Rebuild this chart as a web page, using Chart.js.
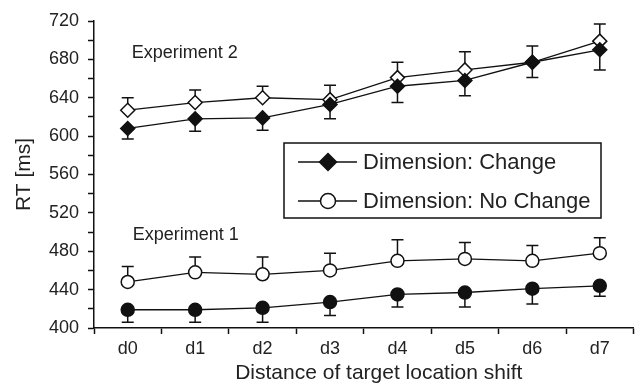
<!DOCTYPE html>
<html lang="en">
<head>
  <meta charset="UTF-8" />
  <title>RT by target location shift</title>
  <script src="https://cdn.jsdelivr.net/npm/chart.js"></script>
  <style>
    body {
      margin: 0;
      background: #ffffff;
    }
    #wrap {
      width: 642px;
      height: 387px;
    }
  </style>
</head>
<body>
  <div id="wrap"><canvas id="rtChart" width="642" height="387"></canvas></div>

  <script>
    // categories
    const labels = ['d0', 'd1', 'd2', 'd3', 'd4', 'd5', 'd6', 'd7'];

    // Experiment 2 (diamonds)
    const exp2Change = [608, 618, 619, 633, 652, 658, 677, 690];
    const exp2ChangeErr = [11, 13, 13, 15, 17, 16, 16, 21];
    const exp2NoChange = [627, 635, 640, 638, 661, 669, 677, 699];
    const exp2NoChangeErr = [13, 13, 12, 15, 16, 19, 17, 18];

    // Experiment 1 (circles)
    const exp1Change = [419, 419, 421, 427, 435, 437, 441, 444];
    const exp1ChangeErr = [13, 13, 15, 14, 13, 15, 16, 11];
    const exp1NoChange = [448, 458, 456, 460, 470, 472, 470, 478];
    const exp1NoChangeErr = [16, 16, 18, 18, 22, 17, 16, 16];

    const legendLabels = ['Dimension: Change', 'Dimension: No Change'];
    const ink = '#111';
    const font = "'Liberation Sans', Arial, sans-serif";

    function serie(label, data, err, dir, style, filled, radius) {
      return {
        label: label,
        data: data,
        err: err,
        errDir: dir,
        borderColor: ink,
        borderWidth: 1.3,
        pointStyle: style,
        pointRadius: radius,
        pointBorderWidth: 1.5,
        pointBorderColor: ink,
        pointBackgroundColor: filled ? ink : '#ffffff',
        tension: 0,
        fill: false
      };
    }

    // error bars, drawn under the markers
    const errorBars = {
      id: 'errorBars',
      beforeDatasetsDraw(chart) {
        const ctx = chart.ctx;
        const y = chart.scales.y;
        ctx.save();
        ctx.strokeStyle = ink;
        ctx.lineWidth = 1.5;
        chart.data.datasets.forEach((ds, i) => {
          const meta = chart.getDatasetMeta(i);
          meta.data.forEach((pt, j) => {
            const end = y.getPixelForValue(ds.data[j] + ds.errDir * ds.err[j]);
            ctx.beginPath();
            ctx.moveTo(pt.x, pt.y);
            ctx.lineTo(pt.x, end);
            ctx.moveTo(pt.x - 6, end);
            ctx.lineTo(pt.x + 6, end);
            ctx.stroke();
          });
        });
        ctx.restore();
      }
    };

    // legend box, experiment labels, x title
    const extras = {
      id: 'extras',
      afterDraw(chart) {
        const ctx = chart.ctx;
        const x = chart.scales.x;
        const y = chart.scales.y;
        ctx.save();
        ctx.fillStyle = '#222';
        ctx.textBaseline = 'middle';
        ctx.font = '18px ' + font;
        ctx.textAlign = 'left';
        ctx.fillText('Experiment 2', x.getPixelForValue(0) + 4, y.getPixelForValue(687));
        ctx.fillText('Experiment 1', x.getPixelForValue(0) + 5, y.getPixelForValue(497));

        ctx.font = '21px ' + font;
        ctx.textAlign = 'center';
        ctx.fillText('Distance of target location shift', (x.left + x.right) / 2 + 15, 373);

        // legend
        const bx = 284, by = 143, bw = 317, bh = 75;
        ctx.strokeStyle = ink;
        ctx.lineWidth = 1.5;
        ctx.fillStyle = '#ffffff';
        ctx.fillRect(bx, by, bw, bh);
        ctx.strokeRect(bx, by, bw, bh);
        const rows = [by + 19, by + 58];
        rows.forEach((ry, k) => {
          ctx.beginPath();
          ctx.moveTo(bx + 14, ry);
          ctx.lineTo(bx + 73, ry);
          ctx.lineWidth = 1.3;
          ctx.stroke();
          const cx = bx + 44;
          ctx.beginPath();
          if (k === 0) {
            ctx.moveTo(cx - 8.5, ry);
            ctx.lineTo(cx, ry - 8.5);
            ctx.lineTo(cx + 8.5, ry);
            ctx.lineTo(cx, ry + 8.5);
            ctx.closePath();
            ctx.fillStyle = ink;
          } else {
            ctx.arc(cx, ry, 7.5, 0, Math.PI * 2);
            ctx.fillStyle = '#ffffff';
          }
          ctx.fill();
          ctx.lineWidth = 1.5;
          ctx.stroke();
          ctx.fillStyle = '#222';
          ctx.font = '22px ' + font;
          ctx.textAlign = 'left';
          ctx.fillText(legendLabels[k], bx + 79, ry + 1);
        });
        ctx.restore();
      }
    };

    const chart = new Chart(document.getElementById('rtChart'), {
      type: 'line',
      data: {
        labels: labels,
        datasets: [
          serie('Exp 2 Change', exp2Change, exp2ChangeErr, -1, 'rectRot', true, 7),
          serie('Exp 2 No Change', exp2NoChange, exp2NoChangeErr, 1, 'rectRot', false, 7),
          serie('Exp 1 Change', exp1Change, exp1ChangeErr, -1, 'circle', true, 6.5),
          serie('Exp 1 No Change', exp1NoChange, exp1NoChangeErr, 1, 'circle', false, 6.5)
        ]
      },
      options: {
        responsive: false,
        animation: false,
        events: [],
        layout: { padding: { top: 21, right: 3, left: 0, bottom: 0 } },
        plugins: {
          legend: { display: false },
          tooltip: { enabled: false }
        },
        scales: {
          x: {
            offset: true,
            grid: { offset: true, drawOnChartArea: false, tickLength: 6, tickWidth: 1.5, tickColor: ink },
            border: { color: ink, width: 1.5 },
            ticks: { color: '#222', padding: 4, font: { family: font, size: 18 } },
            afterFit: s => { s.height = 59; }
          },
          y: {
            min: 400,
            max: 720,
            grid: { drawOnChartArea: false, tickLength: 6, tickWidth: 1.5, tickColor: ink },
            border: { color: ink, width: 1.5 },
            ticks: {
              stepSize: 20,
              autoSkip: false,
              padding: 9,
              color: '#222',
              font: { family: font, size: 18 },
              callback: v => (v % 40 === 0 ? v : '')
            },
            title: { display: true, text: 'RT [ms]', color: '#222', font: { family: font, size: 21 }, padding: { top: 12, bottom: 0 } },
            afterFit: s => { s.width = 94; }
          }
        }
      },
      plugins: [errorBars, extras]
    });
  </script>
</body>
</html>
